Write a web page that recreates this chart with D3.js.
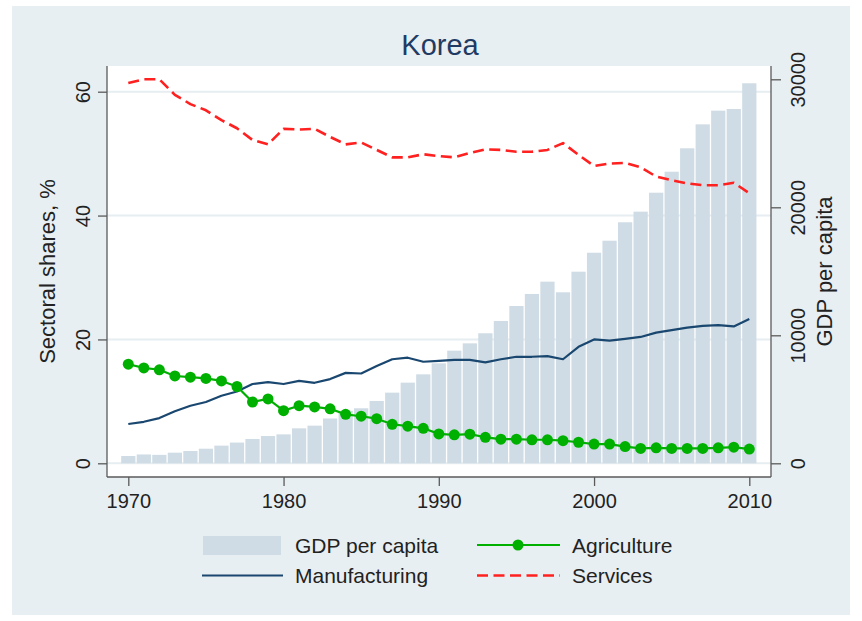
<!DOCTYPE html>
<html>
<head>
<meta charset="utf-8">
<script src="https://cdn.jsdelivr.net/npm/d3@7"></script>
<style>
body { margin: 0; background: #fff; }
text { font-family: "Liberation Sans", Arial, sans-serif; }
</style>
</head>
<body>
<svg id="chart"></svg>
<script>
var years = [1970, 1971, 1972, 1973, 1974, 1975, 1976, 1977, 1978, 1979,
             1980, 1981, 1982, 1983, 1984, 1985, 1986, 1987, 1988, 1989,
             1990, 1991, 1992, 1993, 1994, 1995, 1996, 1997, 1998, 1999,
             2000, 2001, 2002, 2003, 2004, 2005, 2006, 2007, 2008, 2009, 2010];
var gdp = [570, 690, 660, 830, 960, 1140, 1380, 1620, 1900, 2130,
           2260, 2730, 2940, 3500, 4100, 4300, 4870, 5520, 6300, 6950,
           7810, 8800, 9370, 10160, 11120, 12290, 13230, 14190, 13360, 14970,
           16450, 17390, 18830, 19660, 21140, 22780, 24610, 26480, 27550, 27680, 29690];
var agriculture = [16.0, 15.4, 15.1, 14.1, 13.9, 13.7, 13.3, 12.4, 9.9, 10.4,
                   8.5, 9.3, 9.1, 8.8, 7.9, 7.6, 7.2, 6.3, 6.0, 5.65,
                   4.75, 4.6, 4.7, 4.2, 3.9, 3.9, 3.8, 3.8, 3.65, 3.4,
                   3.1, 3.1, 2.7, 2.4, 2.5, 2.4, 2.4, 2.4, 2.5, 2.6, 2.3];
var manufacturing = [6.35, 6.7, 7.3, 8.4, 9.3, 9.9, 10.9, 11.6, 12.8, 13.1,
                     12.8, 13.3, 13.0, 13.6, 14.6, 14.5, 15.7, 16.8, 17.05, 16.4,
                     16.55, 16.7, 16.7, 16.3, 16.8, 17.2, 17.2, 17.3, 16.8, 18.8,
                     20.0, 19.8, 20.1, 20.4, 21.1, 21.5, 21.9, 22.2, 22.3, 22.1, 23.3];
var services = [61.4, 62.0, 62.0, 59.5, 58.0, 57.0, 55.4, 54.1, 52.2, 51.5,
                54.0, 53.9, 54.0, 52.7, 51.5, 51.8, 50.6, 49.4, 49.4, 49.9,
                49.6, 49.4, 50.1, 50.7, 50.6, 50.3, 50.3, 50.6, 51.7, 49.8,
                48.0, 48.4, 48.5, 47.8, 46.3, 45.7, 45.2, 44.9, 44.9, 45.3, 43.6];
var shareTicks = [0, 20, 40, 60];
var gdpTicks = [0, 10000, 20000, 30000];
var yearTicks = [1970, 1980, 1990, 2000, 2010];

var width = 862,
    height = 621;

var svg = d3.select("#chart").attr("width", width).attr("height", height);

var bg = "#e8eff2",
    barColor = "#cfdce5",
    axisColor = "#5a5a5a",
    textColor = "#222222";

// plot region
var pLeft = 107, pRight = 771, pTop = 66, pBottom = 477;

var x = d3.scaleLinear().domain([1970, 2010]).range([128.3, 749.3]);
var yL = d3.scaleLinear().domain([0, 60]).range([463.3, 91.7]);
var yR = d3.scaleLinear().domain([0, 30000]).range([463.3, 79.3]);

svg.append("rect").attr("x", 12).attr("y", 6).attr("width", 838).attr("height", 609).attr("fill", bg);
svg.append("rect").attr("x", pLeft).attr("y", pTop).attr("width", pRight - pLeft).attr("height", pBottom - pTop).attr("fill", "#fff");

// gridlines
svg.append("g").selectAll("line").data(shareTicks).join("line")
	.attr("x1", pLeft).attr("x2", pRight)
	.attr("y1", d => yL(d)).attr("y2", d => yL(d))
	.attr("stroke", "#e6eef1").attr("stroke-width", 2);

// GDP bars
var step = x(1971) - x(1970);
var barW = step - 1.3;
svg.append("g").selectAll("rect").data(years).join("rect")
	.attr("x", (d, i) => x(d) - barW / 2)
	.attr("width", barW)
	.attr("y", (d, i) => yR(gdp[i]))
	.attr("height", (d, i) => yR(0) - yR(gdp[i]))
	.attr("fill", barColor);

// lines
function drawLine(values, color, w, dash) {
	var line = d3.line().x((d, i) => x(years[i])).y(d => yL(d));
	var p = svg.append("path").datum(values)
		.attr("d", line)
		.attr("fill", "none")
		.attr("stroke", color)
		.attr("stroke-width", w)
		.attr("stroke-linejoin", "round");
	if (dash) p.attr("stroke-dasharray", dash);
	return p;
}

drawLine(manufacturing, "#1a476f", 2.2);
drawLine(agriculture, "#00b000", 2.2);
svg.append("g").selectAll("circle").data(agriculture).join("circle")
	.attr("cx", (d, i) => x(years[i]))
	.attr("cy", d => yL(d))
	.attr("r", 5.5)
	.attr("fill", "#00b000");
drawLine(services, "#ff2020", 2.6, "11,5.5");

// axes lines
svg.append("line").attr("x1", pLeft).attr("x2", pLeft).attr("y1", pTop).attr("y2", pBottom).attr("stroke", axisColor).attr("stroke-width", 1.3);
svg.append("line").attr("x1", pRight).attr("x2", pRight).attr("y1", pTop).attr("y2", pBottom).attr("stroke", axisColor).attr("stroke-width", 1.3);
svg.append("line").attr("x1", pLeft).attr("x2", pRight).attr("y1", pBottom).attr("y2", pBottom).attr("stroke", axisColor).attr("stroke-width", 1.3);

function styleAxis(g) {
	g.select(".domain").remove();
	g.selectAll(".tick line").attr("stroke", axisColor).attr("stroke-width", 1.3);
	g.selectAll(".tick text").attr("fill", textColor).style("font-size", "20px")
		.style("font-family", "'Liberation Sans', Arial, sans-serif");
}

svg.append("g").attr("transform", "translate(" + pLeft + ",0)")
	.call(d3.axisLeft(yL).tickValues(shareTicks).tickSize(9))
	.call(styleAxis)
	.call(g => g.selectAll(".tick text")
		.attr("x", null).attr("dy", null)
		.attr("text-anchor", "middle")
		.attr("transform", "translate(-17,0) rotate(-90)"));

svg.append("g").attr("transform", "translate(" + pRight + ",0)")
	.call(d3.axisRight(yR).tickValues(gdpTicks).tickFormat(d3.format("d")).tickSize(10))
	.call(styleAxis)
	.call(g => g.selectAll(".tick text")
		.attr("x", null).attr("dy", null)
		.attr("text-anchor", "middle")
		.attr("transform", "translate(34,0) rotate(-90)"));

svg.append("g").attr("transform", "translate(0," + pBottom + ")")
	.call(d3.axisBottom(x).tickValues(yearTicks).tickFormat(d3.format("d")).tickSize(9))
	.call(styleAxis)
	.call(g => g.selectAll(".tick text").attr("y", 31).attr("dy", null));

// titles
svg.append("text").text("Korea").attr("x", 440).attr("y", 54.5)
	.attr("text-anchor", "middle").attr("fill", "#1f3b63").style("font-size", "29px");
svg.append("text").text("Sectoral shares, %")
	.attr("transform", "translate(55," + (pTop + pBottom) / 2 + ") rotate(-90)")
	.attr("text-anchor", "middle").attr("fill", textColor).style("font-size", "22px");
svg.append("text").text("GDP per capita")
	.attr("transform", "translate(832," + (pTop + pBottom) / 2 + ") rotate(-90)")
	.attr("text-anchor", "middle").attr("fill", textColor).style("font-size", "22px");

// legend
var lg = svg.append("g");
lg.append("rect").attr("x", 203).attr("y", 536).attr("width", 78).attr("height", 19).attr("fill", barColor);
lg.append("text").text("GDP per capita").attr("x", 295).attr("y", 552.5).attr("fill", textColor).style("font-size", "21px");

lg.append("line").attr("x1", 477).attr("x2", 560).attr("y1", 545).attr("y2", 545).attr("stroke", "#00b000").attr("stroke-width", 2.2);
lg.append("circle").attr("cx", 518).attr("cy", 545).attr("r", 5.5).attr("fill", "#00b000");
lg.append("text").text("Agriculture").attr("x", 572).attr("y", 552.5).attr("fill", textColor).style("font-size", "21px");

lg.append("line").attr("x1", 202).attr("x2", 283).attr("y1", 575.5).attr("y2", 575.5).attr("stroke", "#1a476f").attr("stroke-width", 2.2);
lg.append("text").text("Manufacturing").attr("x", 295).attr("y", 583).attr("fill", textColor).style("font-size", "21px");

lg.append("line").attr("x1", 477).attr("x2", 560).attr("y1", 575.5).attr("y2", 575.5).attr("stroke", "#ff2020").attr("stroke-width", 2.6).attr("stroke-dasharray", "11,5.5");
lg.append("text").text("Services").attr("x", 572).attr("y", 583).attr("fill", textColor).style("font-size", "21px");
</script>
</body>
</html>
